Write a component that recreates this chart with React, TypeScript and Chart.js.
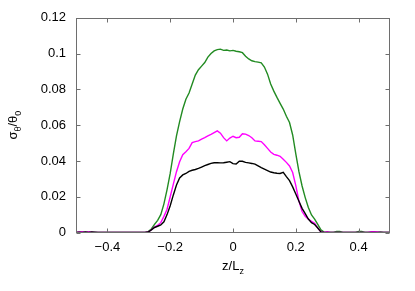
import React, { useEffect, useRef } from "react";
import { Chart, registerables } from "chart.js";

Chart.register(...registerables);

const Z_VALUES = [
  -0.5, -0.49, -0.48, -0.47, -0.46, -0.45, -0.44, -0.43, -0.42, -0.41,
  -0.4, -0.39, -0.38, -0.37, -0.36, -0.35, -0.34, -0.33, -0.32, -0.31,
  -0.3, -0.29, -0.28, -0.27, -0.26, -0.25, -0.24, -0.23, -0.22, -0.21,
  -0.2, -0.19, -0.18, -0.17, -0.16, -0.15, -0.14, -0.13, -0.12, -0.11,
  -0.1, -0.09, -0.08, -0.07, -0.06, -0.05, -0.04, -0.03, -0.02, -0.01,
  0.0, 0.01, 0.02, 0.03, 0.04, 0.05, 0.06, 0.07, 0.08, 0.09,
  0.1, 0.11, 0.12, 0.13, 0.14, 0.15, 0.16, 0.17, 0.18, 0.19,
  0.2, 0.21, 0.22, 0.23, 0.24, 0.25, 0.26, 0.27, 0.28, 0.29,
  0.3, 0.31, 0.32, 0.33, 0.34, 0.35, 0.36, 0.37, 0.38, 0.39,
  0.4, 0.41, 0.42, 0.43, 0.44, 0.45, 0.46, 0.47, 0.48, 0.49, 0.5,
];

const GREEN_SERIES = [
  0, 0, 0, 0, 0, 0, 0, 0, 0, 0,
  0, 0, 0, 0, 0, 0, 0, 0, 0, 0,
  0, 0, 0, 0.0005, 0.002, 0.0045, 0.0068, 0.01, 0.016, 0.024,
  0.033, 0.044, 0.054, 0.062, 0.069, 0.0745, 0.078, 0.083, 0.088, 0.091,
  0.093, 0.095, 0.098, 0.1, 0.1015, 0.1022, 0.1025, 0.1018, 0.102, 0.1015,
  0.1018, 0.1013, 0.101, 0.1005, 0.0985, 0.097, 0.096, 0.0955, 0.0952, 0.0948,
  0.0925, 0.0885, 0.083, 0.079, 0.0755, 0.0722, 0.069, 0.065, 0.0615, 0.0545,
  0.044, 0.034, 0.026, 0.0195, 0.014, 0.0098, 0.0075, 0.0045, 0.0015, 0.0002,
  0, 0, 0, 0.0006, 0.0006, 0, 0, 0, 0, 0,
  0.0006, 0.0006, 0, 0, 0, 0, 0, 0, 0, 0, 0,
];

const MAGENTA_SERIES = [
  0, 0.0003, 0.0004, 0, 0.0004, 0.0002, 0, 0, 0, 0,
  0, 0, 0, 0, 0, 0, 0, 0, 0, 0,
  0, 0, 0, 0.0003, 0.0015, 0.003, 0.004, 0.0055, 0.009, 0.013,
  0.02, 0.027, 0.034, 0.0395, 0.0435, 0.0452, 0.047, 0.0502, 0.0508, 0.0512,
  0.0522, 0.053, 0.054, 0.0548, 0.0558, 0.0568, 0.0555, 0.053, 0.0512, 0.0528,
  0.0538, 0.053, 0.0532, 0.0552, 0.055, 0.0542, 0.053, 0.0512, 0.051, 0.0508,
  0.049, 0.047, 0.045, 0.0437, 0.0432, 0.0426, 0.041, 0.0392, 0.0372, 0.0335,
  0.0262, 0.0175, 0.0117, 0.009, 0.0075, 0.0062, 0.0052, 0.0025, 0.0003, 0,
  0.0004, 0, 0, 0, 0, 0, 0, 0, 0, 0,
  0, 0, 0, 0, 0.0004, 0.0004, 0.0003, 0, 0, 0, 0,
];

const BLACK_SERIES = [
  0, 0.0002, 0, 0.0003, 0, 0.0003, 0.0002, 0, 0, 0,
  0, 0, 0, 0, 0, 0, 0, 0, 0, 0,
  0, 0, 0, 0.0003, 0.0015, 0.0028, 0.0035, 0.0042, 0.006, 0.01,
  0.015, 0.021, 0.0265, 0.0305, 0.0322, 0.033, 0.0342, 0.0348, 0.0352, 0.0358,
  0.0366, 0.0374, 0.038, 0.0386, 0.039, 0.039, 0.0389, 0.039, 0.0393, 0.0396,
  0.0385, 0.0383, 0.0398, 0.0398, 0.0392, 0.0389, 0.0386, 0.0382, 0.0372, 0.0362,
  0.0354, 0.0346, 0.0338, 0.0334, 0.0331, 0.033, 0.0336, 0.0312, 0.029, 0.0255,
  0.0215, 0.0175, 0.0135, 0.0105, 0.0075, 0.0055, 0.0045, 0.0025, 0.0003, 0,
  0, 0, 0, 0, 0, 0, 0, 0, 0, 0,
  0, 0, 0, 0, 0, 0, 0, 0.0002, 0, 0, 0,
];

const X_TICKS = [-0.4, -0.2, 0, 0.2, 0.4];
const Y_TICKS = [0, 0.02, 0.04, 0.06, 0.08, 0.1, 0.12];
const X_TICK_LABELS = ["\u22120.4", "\u22120.2", "0", "0.2", "0.4"];
const Y_TICK_LABELS = ["0", "0.02", "0.04", "0.06", "0.08", "0.1", "0.12"];

const FONT = "Liberation Sans, Arial, sans-serif";

type Seg = { t: string; sub?: boolean };

function drawRich(ctx: CanvasRenderingContext2D, segs: Seg[], size: number) {
  const subSize = Math.round(size * 0.72);
  let total = 0;
  for (const s of segs) {
    ctx.font = `${s.sub ? subSize : size}px ${FONT}`;
    total += ctx.measureText(s.t).width;
  }
  let x = -total / 2;
  ctx.textBaseline = "alphabetic";
  ctx.textAlign = "left";
  for (const s of segs) {
    ctx.font = `${s.sub ? subSize : size}px ${FONT}`;
    ctx.fillText(s.t, x, s.sub ? size * 0.3 : 0);
    x += ctx.measureText(s.t).width;
  }
}

const framePlugin = {
  id: "gnuplotFrame",
  afterDraw(chart: any) {
    const { ctx, chartArea } = chart;
    const xs = chart.scales.x;
    const ys = chart.scales.y;
    const l = Math.round(chartArea.left) + 0.5;
    const r = Math.round(chartArea.right) - 0.5;
    const t = Math.round(chartArea.top) + 0.5;
    const b = Math.round(chartArea.bottom) - 0.5;
    ctx.save();
    ctx.strokeStyle = "#6e6e6e";
    ctx.lineWidth = 1;
    ctx.strokeRect(l, t, r - l, b - t);
    const tl = 4;
    ctx.beginPath();
    for (const v of X_TICKS) {
      const px = Math.round(xs.getPixelForValue(v)) + 0.5;
      ctx.moveTo(px, b);
      ctx.lineTo(px, b - tl);
      ctx.moveTo(px, t);
      ctx.lineTo(px, t + tl);
    }
    for (const v of Y_TICKS) {
      const py = Math.round(ys.getPixelForValue(v)) + 0.5;
      ctx.moveTo(l, py);
      ctx.lineTo(l + tl, py);
      ctx.moveTo(r, py);
      ctx.lineTo(r - tl, py);
    }
    ctx.stroke();

    ctx.fillStyle = "#000";
    // y title
    ctx.save();
    ctx.translate(17, (chartArea.top + chartArea.bottom) / 2);
    ctx.rotate(-Math.PI / 2);
    drawRich(ctx, [{ t: "\u03c3" }, { t: "\u03b8", sub: true }, { t: "/\u03b8" }, { t: "0", sub: true }], 13);
    ctx.restore();
    // x title
    ctx.save();
    ctx.translate((chartArea.left + chartArea.right) / 2, 270);
    drawRich(ctx, [{ t: "z/L" }, { t: "z", sub: true }], 13);
    ctx.restore();
    ctx.restore();
  },
};

export default function App() {
  const ref = useRef<HTMLCanvasElement | null>(null);
  useEffect(() => {
    if (!ref.current) return;
    const mk = (arr: number[]) => Z_VALUES.map((z, i) => ({ x: z, y: arr[i] }));
    const chart = new Chart(ref.current, {
      type: "line",
      data: {
        datasets: [
          { label: "black", data: mk(BLACK_SERIES), borderColor: "#000000", borderWidth: 1.4, pointRadius: 0 },
          { label: "magenta", data: mk(MAGENTA_SERIES), borderColor: "#ff00ff", borderWidth: 1.4, pointRadius: 0 },
          { label: "green", data: mk(GREEN_SERIES), borderColor: "#228b22", borderWidth: 1.4, pointRadius: 0 },
        ],
      },
      options: {
        animation: false,
        responsive: true,
        maintainAspectRatio: false,
        layout: { padding: { left: 0, top: 14, right: 25, bottom: 0 } },
        plugins: { legend: { display: false }, tooltip: { enabled: false } },
        scales: {
          x: {
            type: "linear",
            min: -0.5,
            max: 0.5,
            grid: { display: false, drawTicks: false },
            border: { display: false },
            afterBuildTicks: (s: any) => {
              s.ticks = X_TICKS.map((v) => ({ value: v }));
            },
            afterFit: (s: any) => {
              s.height = 58.5;
            },
            ticks: {
              padding: 7,
              color: "#000",
              font: { family: FONT, size: 13 },
              maxRotation: 0,
              autoSkip: false,
              callback: (v: any) => {
                const i = X_TICKS.findIndex((t) => Math.abs(t - Number(v)) < 1e-9);
                return i >= 0 ? X_TICK_LABELS[i] : "";
              },
            },
          },
          y: {
            min: 0,
            max: 0.12,
            grid: { display: false, drawTicks: false },
            border: { display: false },
            afterBuildTicks: (s: any) => {
              s.ticks = Y_TICKS.map((v) => ({ value: v }));
            },
            afterFit: (s: any) => {
              s.width = 76;
            },
            ticks: {
              padding: 10,
              color: "#000",
              font: { family: FONT, size: 13 },
              autoSkip: false,
              callback: (v: any) => {
                const i = Y_TICKS.findIndex((t) => Math.abs(t - Number(v)) < 1e-9);
                return i >= 0 ? Y_TICK_LABELS[i] : "";
              },
            },
          },
        },
      },
      plugins: [framePlugin],
    });
    return () => chart.destroy();
  }, []);
  return (
    <div style={{ position: "fixed", left: 0, top: 0, width: 415, height: 291, background: "#fff" }}>
      <canvas ref={ref} />
    </div>
  );
}
